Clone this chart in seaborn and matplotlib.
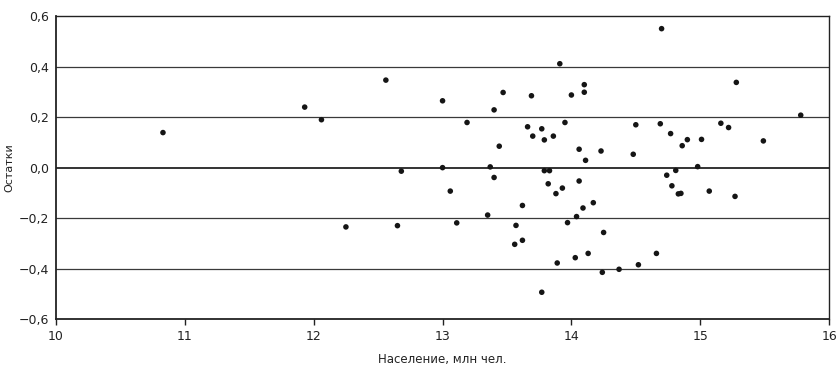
import matplotlib
matplotlib.use("Agg")
import matplotlib.pyplot as plt
import seaborn as sns
import pandas as pd
from matplotlib.ticker import FuncFormatter, MultipleLocator

# население, млн чел.
population = [
    10.83, 11.93, 12.06, 12.56, 12.68, 12.25, 12.65, 13.00, 13.00, 13.06,
    13.11, 13.19, 13.35, 13.37, 13.40, 13.40, 13.44, 13.47, 13.57, 13.56,
    13.62, 13.62, 13.66, 13.69, 13.70, 13.77, 13.77, 13.79, 13.79, 13.83,
    13.82, 13.86, 13.88, 13.89, 13.91, 13.93, 13.95, 13.97, 14.00, 14.03,
    14.04, 14.06, 14.06, 14.09, 14.10, 14.10, 14.11, 14.13, 14.17, 14.23,
    14.25, 14.24, 14.37, 14.48, 14.50, 14.52, 14.66, 14.69, 14.70, 14.74,
    14.77, 14.78, 14.81, 14.83, 14.85, 14.86, 14.90, 14.98, 15.01, 15.07,
    15.16, 15.22, 15.27, 15.28, 15.49, 15.78,
]
# остатки
residuals = [
    0.139, 0.240, 0.190, 0.347, -0.014, -0.235, -0.230, 0.265, 0.000, -0.093,
    -0.219, 0.179, -0.188, 0.003, 0.229, -0.039, 0.085, 0.298, -0.229, -0.304,
    -0.150, -0.288, 0.162, 0.285, 0.125, -0.494, 0.154, 0.110, -0.012, -0.012,
    -0.064, 0.125, -0.103, -0.378, 0.412, -0.081, 0.179, -0.218, 0.288, -0.357,
    -0.194, 0.073, -0.053, -0.160, 0.299, 0.329, 0.029, -0.340, -0.139, 0.066,
    -0.257, -0.415, -0.403, 0.053, 0.170, -0.385, -0.340, 0.174, 0.551, -0.030,
    0.135, -0.072, -0.011, -0.104, -0.102, 0.087, 0.111, 0.004, 0.112, -0.093,
    0.176, 0.159, -0.114, 0.338, 0.106, 0.208,
]

df = pd.DataFrame({"pop": population, "resid": residuals})

sns.set_style("white")
plt.rcParams["font.family"] = ["DejaVu Sans"]

fig = plt.figure(figsize=(8.4, 3.68), dpi=100)
ax = fig.add_axes([0.0667, 0.1332, 0.9203, 0.8225])

for v in [-0.4, -0.2, 0.2, 0.4]:
    ax.axhline(v, color="#3a3a3a", lw=0.9, zorder=1)
ax.axhline(0, color="#111111", lw=1.2, zorder=1)

sns.scatterplot(data=df, x="pop", y="resid", ax=ax, color="#151515",
                s=16, edgecolor="none", zorder=3)

ax.set_xlim(10, 16)
ax.set_ylim(-0.6, 0.6)
ax.xaxis.set_major_locator(MultipleLocator(1))
ax.yaxis.set_major_locator(MultipleLocator(0.2))

fmt = FuncFormatter(lambda v, p: f"{v:.1f}".replace(".", ",").replace("-", "\u2212"))
ax.yaxis.set_major_formatter(fmt)
ax.xaxis.set_major_formatter(FuncFormatter(lambda v, p: f"{v:.0f}"))

ax.tick_params(axis="x", direction="out", length=4, width=1, color="#222222",
               labelsize=9, pad=4, bottom=True, labelcolor="#222222")
ax.tick_params(axis="y", length=0, labelsize=9, pad=5, labelcolor="#222222")

for side in ["left", "bottom", "top", "right"]:
    ax.spines[side].set_color("#222222")
    ax.spines[side].set_linewidth(1.0)
ax.spines["left"].set_linewidth(1.3)
ax.spines["bottom"].set_linewidth(1.3)

ax.set_xlabel("Население, млн чел.", fontsize=8.5, labelpad=7, color="#222222")
ax.set_ylabel("Остатки", fontsize=8, labelpad=3, color="#222222")

fig.savefig("out.png", dpi=100)
